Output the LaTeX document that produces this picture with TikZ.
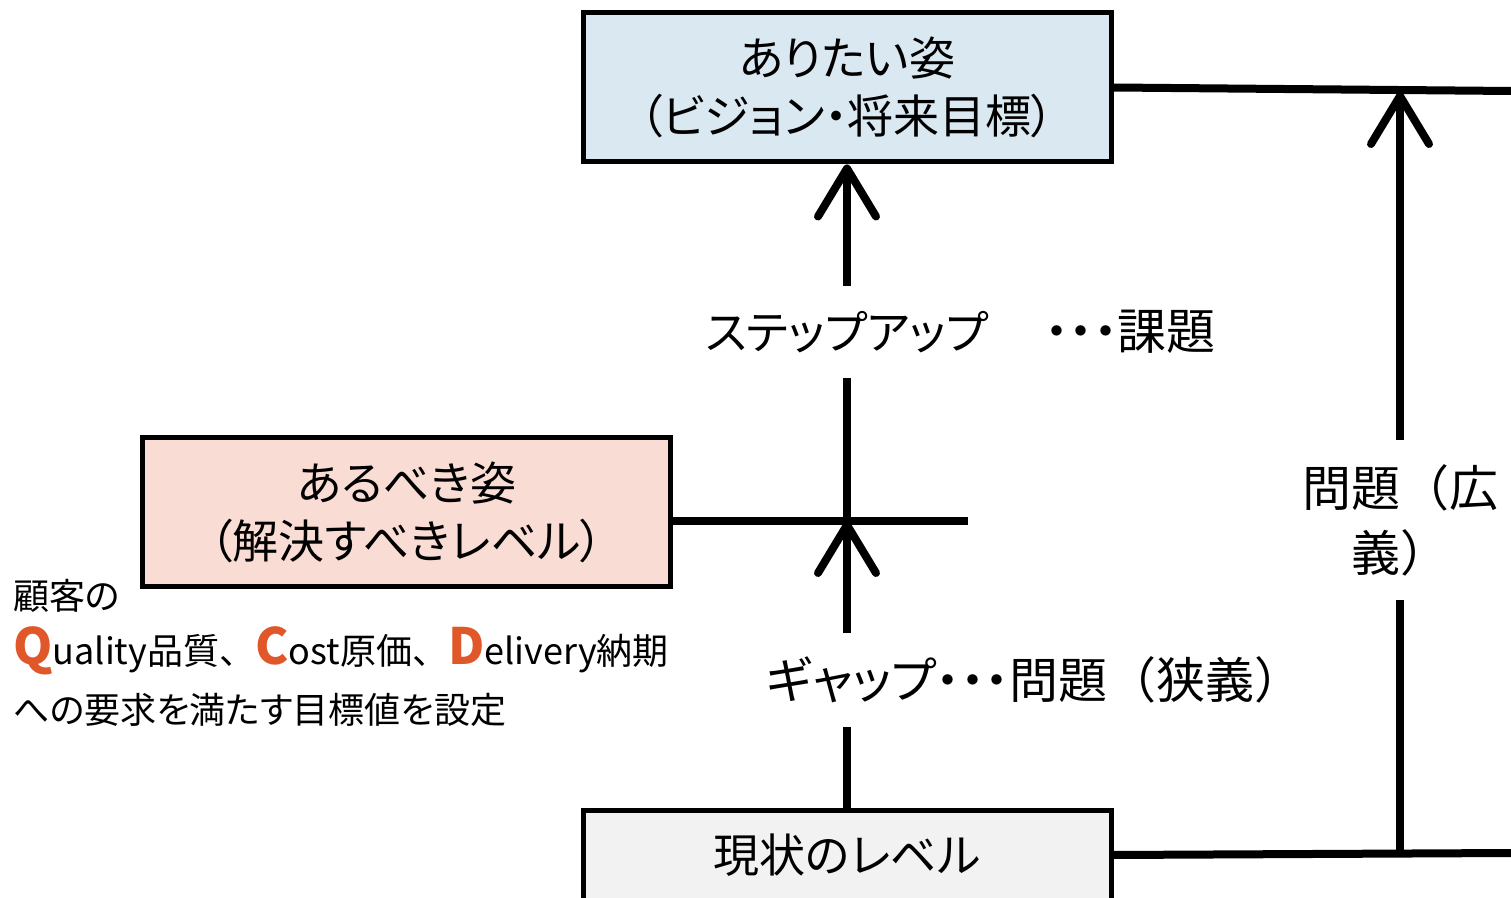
\documentclass[tikz,border=0pt]{standalone}
\usepackage{fontspec}
\setmainfont{Noto Sans CJK JP}[RawFeature=+palt]
\newfontfamily\fw{Noto Sans CJK JP}
\usetikzlibrary{arrows.meta}
\definecolor{boxblue}{HTML}{DAE8F1}
\definecolor{boxpink}{HTML}{F9DCD4}
\definecolor{boxgray}{HTML}{F2F2F2}
\definecolor{qcd}{HTML}{E0582A}
\newcommand{\qcdl}[1]{{\color{qcd}\bfseries\fontsize{25}{25}\selectfont #1}}
\begin{document}
\begin{tikzpicture}[x=0.5pt,y=-0.5pt,
  box/.style={draw=black, line width=2.5pt, minimum width=264pt, minimum height=74.5pt,
    inner sep=0pt, align=center, font=\fontsize{23}{29}\selectfont},
  conn/.style={line width=4pt},
  up/.style={conn, -{Straight Barb[length=24pt 0 0, width=29pt 0 0, round]}},
  lbl/.style={font=\fontsize{23}{32.5}\selectfont, inner sep=0pt, align=center},
  lblb/.style={lbl, font=\fontsize{24.5}{32.5}\selectfont},
  note/.style={anchor=west, inner sep=0pt, font=\fontsize{18}{20}\selectfont}]
\clip (0,0) rectangle (1511,898);
% boxes
\node[box, fill=boxblue] (top) at (847,87.5) {ありたい姿\\（ビジョン・将来目標）};
\node[box, fill=boxpink] (mid) at (406.5,512.5) {あるべき姿\\（解決すべきレベル）};
\node[box, fill=boxgray, minimum height=45pt] (bot) at (847,855) {現状のレベル};
% labels
\node[lbl, minimum height=46pt] (step) at (847,332) {ステップアップ};
\node[lblb] (task) at (1130,332) {・・・課題};
\node[lblb, minimum height=47pt] (gap) at (1035,680) {ギャップ・・・問題{\fw （}狭義{\fw ）}};
\node[lblb, minimum height=80pt] (wide) at (1400,520) {問題{\fw （}広\\義{\fw ）}};
% coordinates
\coordinate (junc) at (847,521);
\coordinate (hend) at (968,521);
\coordinate (rtop) at (1511,91);
\coordinate (rtip) at (1400,92);
\coordinate (rbot) at (1400,854);
\coordinate (rbotend) at (1511,853);
% connectors
\draw[up] (step.north) -- (top.south);
\draw[conn] (step.south) -- (junc);
\draw[up] (junc |- gap.north) -- (junc);
\draw[conn] (bot.north) -- (junc |- gap.south);
\draw[conn] (mid.east |- junc) -- (hend);
\draw[conn] (top.east) -- (rtop);
\draw[up] (wide.north) -- (rtip);
\draw[conn] (wide.south) -- (rbot);
\draw[conn] (bot.east) -- (rbotend);
% note
\node[note] (n1) at (13,596) {顧客の};
\node[note] (n2) at (13,651) {\qcdl{Q}uality品質{\fw 、}\qcdl{C}ost原価{\fw 、}\qcdl{D}elivery納期};
\node[note] (n3) at (13,710) {への要求を満たす目標値を設定};
\end{tikzpicture}
\end{document}
